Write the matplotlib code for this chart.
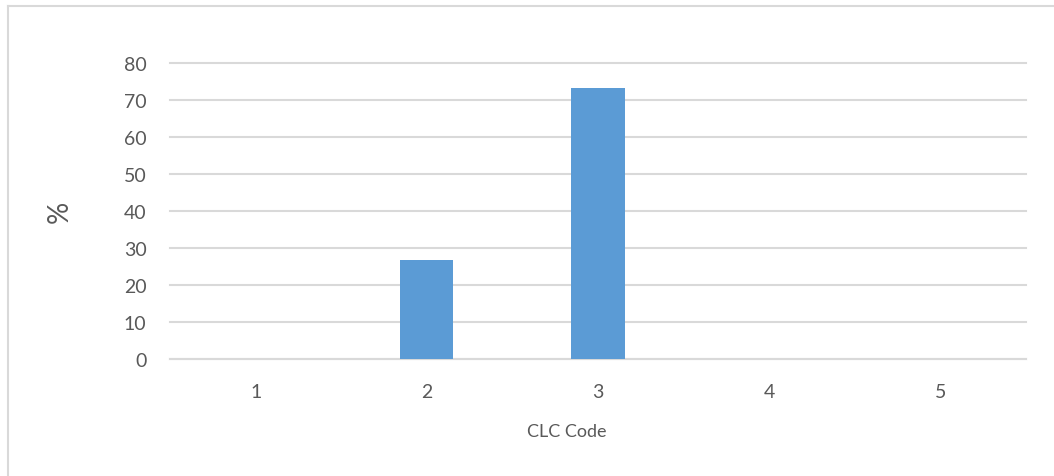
import matplotlib
matplotlib.use('Agg')
import matplotlib.pyplot as plt
from matplotlib.lines import Line2D

# Share of area per CLC code
clc_codes = ['1', '2', '3', '4', '5']
percent = [0, 26.8, 73.2, 0, 0]

bar_color = '#5B9BD5'
grid_color = '#D9D9D9'
text_color = '#595959'

plt.rcParams['font.family'] = ['Lato', 'DejaVu Sans']

fig = plt.figure(figsize=(10.54, 4.77), dpi=100)
ax = fig.add_axes([170 / 1054, 1 - 360 / 477, 856 / 1054, 296 / 477])

ax.bar(clc_codes, percent, width=0.31, color=bar_color, zorder=3)

ax.set_ylim(0, 80)
ax.set_xlim(-0.5, 4.5)
ax.set_yticks(range(0, 81, 10))
ax.grid(axis='y', color=grid_color, linewidth=1.5, zorder=0)
ax.set_axisbelow(True)
for gl in ax.get_ygridlines():
    gl.set_clip_on(False)

for side in ['top', 'right', 'left']:
    ax.spines[side].set_visible(False)
ax.spines['bottom'].set_color(grid_color)
ax.spines['bottom'].set_linewidth(1.5)

ax.tick_params(length=0, labelsize=14, colors=text_color)
ax.tick_params(axis='y', pad=17)
ax.tick_params(axis='x', pad=17)

ax.set_xlabel('CLC Code', fontsize=13, color=text_color)
ax.xaxis.set_label_coords((567 - 170) / 856, -0.215)
ax.set_ylabel('%', fontsize=20, color=text_color)
ax.yaxis.set_label_coords((73 - 170) / 856, 0.5)

# chart area border
fig.add_artist(Line2D([8 / 1054, 8 / 1054], [0, 1 - 7 / 477],
                      transform=fig.transFigure, color=grid_color, lw=1.5))
fig.add_artist(Line2D([8 / 1054, 1], [1 - 7 / 477, 1 - 7 / 477],
                      transform=fig.transFigure, color=grid_color, lw=1.5))

fig.savefig('out.png', dpi=100)
